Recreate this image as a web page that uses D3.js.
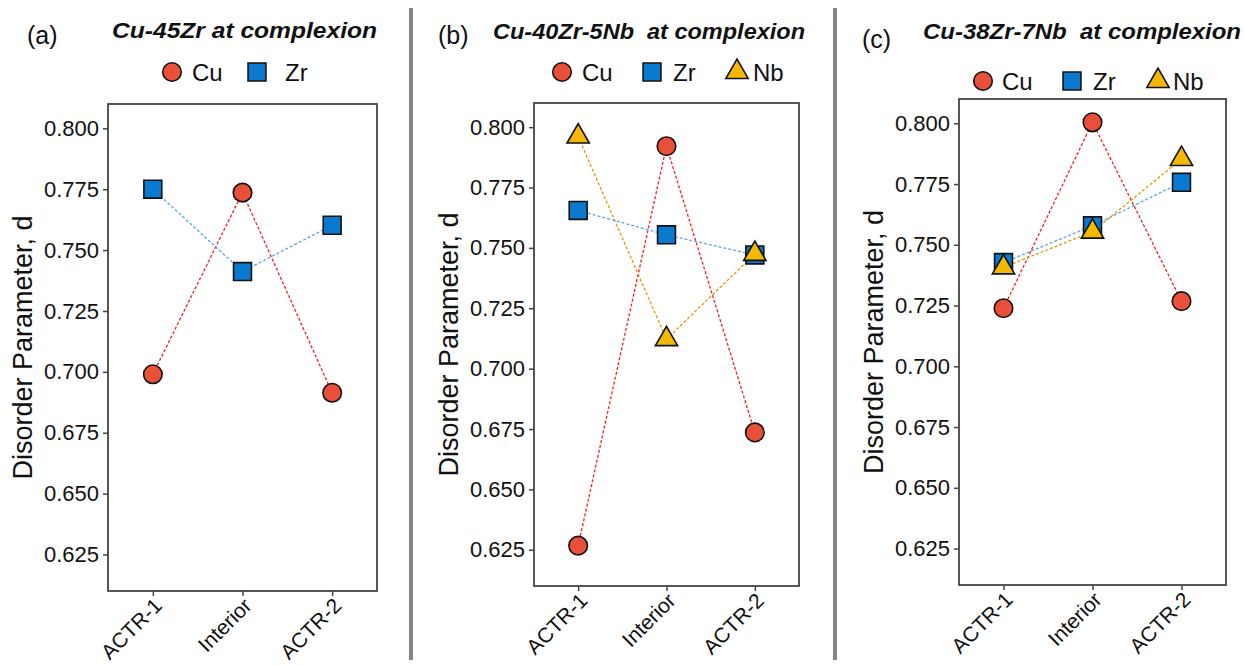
<!DOCTYPE html>
<html>
<head>
<meta charset="utf-8">
<script src="https://cdn.jsdelivr.net/npm/d3@7"></script>
<style>
  body { margin: 0; background: #fff; }
  svg { font-family: "Liberation Sans", Arial, sans-serif; }
</style>
</head>
<body>
<svg width="1245" height="665"></svg>
<script>
// categories along the x axis (same for all three panels)
const sites = ["ACTR-1", "Interior", "ACTR-2"];
const yTicks = [0.625, 0.650, 0.675, 0.700, 0.725, 0.750, 0.775, 0.800];
const yDomain = [0.610, 0.810];

// disorder parameter values
const cuA = [0.699, 0.7736, 0.6914];
const zrA = [0.775, 0.7412, 0.7602];

const cuB = [0.6267, 0.7921, 0.6736];
const zrB = [0.7655, 0.7554, 0.7471];
const nbB = [0.7961, 0.7122, 0.7475];

const cuC = [0.7239, 0.8004, 0.7268];
const zrC = [0.7427, 0.7578, 0.7757];
const nbC = [0.7407, 0.7554, 0.7853];

// element styles
const styles = {
  Cu: { shape: d3.symbolCircle, fill: "#e8503a", line: "#ff1a1a", size: 270 },
  Zr: { shape: d3.symbolSquare, fill: "#0a7ad0", line: "#5aa5e6", size: 320 },
  Nb: { shape: d3.symbolTriangle, fill: "#f5b800", line: "#dd9a00", size: 215 }
};

const svg = d3.select("svg");

const panels = [
  {
    tag: "(a)", title: "Cu-45Zr at complexion",
    tagX: 27, tagY: 44, titleX: 112, titleY: 38, titleLen: 265,
    box: { left: 108, right: 377, top: 104, bottom: 591 },
    legendY: 72, legend: [["Cu", 172, 192], ["Zr", 257, 285]],
    series: [["Cu", cuA], ["Zr", zrA]]
  },
  {
    tag: "(b)", title: "Cu-40Zr-5Nb\u00a0\u00a0at complexion",
    tagX: 438, tagY: 44, titleX: 493, titleY: 39, titleLen: 312,
    box: { left: 534, right: 799, top: 103, bottom: 586 },
    legendY: 72, legend: [["Cu", 562, 582], ["Zr", 652, 673], ["Nb", 737, 753]],
    // Nb drawn last so its triangle sits on the Zr square at ACTR-2
    series: [["Cu", cuB], ["Zr", zrB], ["Nb", nbB]]
  },
  {
    tag: "(c)", title: "Cu-38Zr-7Nb\u00a0\u00a0at complexion",
    tagX: 862, tagY: 48, titleX: 923, titleY: 39, titleLen: 318,
    box: { left: 959, right: 1226, top: 99, bottom: 585 },
    legendY: 81, legend: [["Cu", 983, 1002], ["Zr", 1072, 1093], ["Nb", 1158, 1173]],
    series: [["Cu", cuC], ["Zr", zrC], ["Nb", nbC]]
  }
];

// gray vertical separators between panels
[411, 835].forEach(function(x) {
  svg.append("line")
    .attr("x1", x).attr("x2", x)
    .attr("y1", 8).attr("y2", 660)
    .attr("stroke", "#858585")
    .attr("stroke-width", 4);
});

panels.forEach(function(p) {
  const b = p.box;
  const x = d3.scalePoint().domain(sites).range([b.left, b.right]).padding(0.5);
  const y = d3.scaleLinear().domain(yDomain).range([b.bottom, b.top]);

  // panel tag and title
  svg.append("text")
    .attr("x", p.tagX).attr("y", p.tagY)
    .attr("font-size", 25)
    .attr("fill", "#111")
    .text(p.tag);
  svg.append("text")
    .attr("x", p.titleX).attr("y", p.titleY)
    .attr("font-size", 22.5)
    .attr("font-weight", "bold")
    .attr("font-style", "italic")
    .attr("fill", "#111")
    .attr("textLength", p.titleLen)
    .attr("lengthAdjust", "spacingAndGlyphs")
    .text(p.title);

  // legend
  p.legend.forEach(function(item) {
    const st = styles[item[0]];
    svg.append("path")
      .attr("d", d3.symbol().type(st.shape).size(st.size)())
      .attr("transform", "translate(" + item[1] + "," + p.legendY + ")")
      .attr("fill", st.fill)
      .attr("stroke", "#111")
      .attr("stroke-width", 1.6);
    svg.append("text")
      .attr("x", item[2]).attr("y", p.legendY + 8.5)
      .attr("font-size", 24)
      .attr("fill", "#111")
      .text(item[0]);
  });

  // axes
  const xAxis = svg.append("g")
    .attr("transform", "translate(0," + b.bottom + ")")
    .call(d3.axisBottom(x).tickSize(5).tickSizeOuter(0));
  xAxis.select(".domain").remove();
  xAxis.selectAll("line").attr("stroke", "#444").attr("stroke-width", 1.5);
  xAxis.selectAll("text")
    .attr("font-size", 21)
    .attr("fill", "#111")
    .attr("text-anchor", "end")
    .attr("dy", null)
    .attr("y", 0)
    .attr("transform", "translate(10,16) rotate(-45)");

  const yAxis = svg.append("g")
    .attr("transform", "translate(" + b.left + ",0)")
    .call(d3.axisLeft(y).tickValues(yTicks).tickFormat(d3.format(".3f")).tickSize(5).tickSizeOuter(0));
  yAxis.select(".domain").remove();
  yAxis.selectAll("line").attr("stroke", "#444").attr("stroke-width", 1.5);
  yAxis.selectAll("text")
    .attr("font-size", 22)
    .attr("fill", "#111")
    .attr("x", -9);

  // frame
  svg.append("rect")
    .attr("x", b.left).attr("y", b.top)
    .attr("width", b.right - b.left).attr("height", b.bottom - b.top)
    .attr("fill", "none")
    .attr("stroke", "#444")
    .attr("stroke-width", 1.8);

  // y label
  svg.append("text")
    .attr("transform", "translate(" + (b.left - 76) + "," + ((b.top + b.bottom) / 2) + ") rotate(-90)")
    .attr("text-anchor", "middle")
    .attr("font-size", 27)
    .attr("fill", "#111")
    .text("Disorder Parameter, d");

  // dashed connecting lines first, then markers
  const line = d3.line()
    .x(function(d, i) { return x(sites[i]); })
    .y(function(d) { return y(d); });

  p.series.forEach(function(s) {
    svg.append("path")
      .datum(s[1])
      .attr("d", line)
      .attr("fill", "none")
      .attr("stroke", styles[s[0]].line)
      .attr("stroke-width", 1.3)
      .attr("stroke-dasharray", "3,2");
  });

  p.series.forEach(function(s) {
    const st = styles[s[0]];
    svg.append("g")
      .selectAll("path")
      .data(s[1])
      .join("path")
      .attr("d", d3.symbol().type(st.shape).size(st.size)())
      .attr("transform", function(d, i) { return "translate(" + x(sites[i]) + "," + y(d) + ")"; })
      .attr("fill", st.fill)
      .attr("stroke", "#111")
      .attr("stroke-width", 1.6);
  });
});
</script>
</body>
</html>
